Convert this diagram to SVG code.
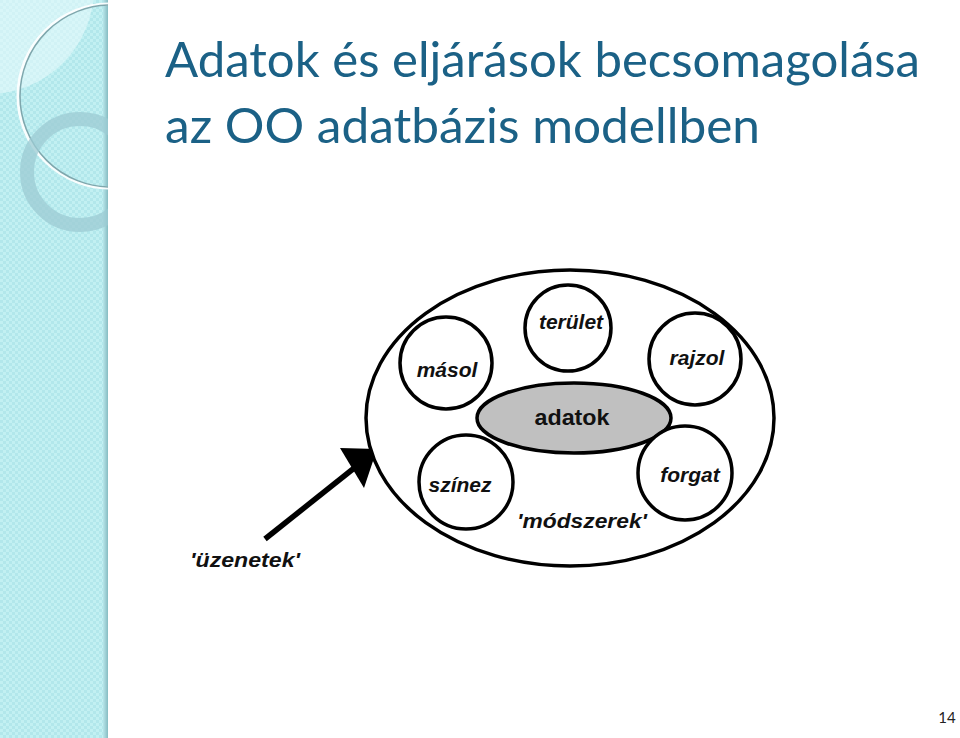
<svg xmlns="http://www.w3.org/2000/svg" width="960" height="738" viewBox="0 0 960 738">
<defs>
<pattern id="chk" width="6" height="6" patternUnits="userSpaceOnUse">
<rect width="6" height="6" fill="#c2f0f2"/>
<rect width="3" height="3" fill="#b2e7eb"/>
<rect x="3" y="3" width="3" height="3" fill="#b2e7eb"/>
</pattern>
<linearGradient id="edge" x1="0" x2="1" y1="0" y2="0">
<stop offset="0" stop-color="#b8e6ea"/>
<stop offset="1" stop-color="#86bcc2"/>
</linearGradient>
<clipPath id="band"><rect x="0" y="0" width="108" height="738"/></clipPath>
<style>
.ttl{font-family:"Lato","Open Sans",sans-serif;font-size:49px;fill:#1b6186}
.node{fill:#fff;stroke:#000;stroke-width:3.5}
.lbl{font-family:"Liberation Sans",Arial,sans-serif;font-size:21px;font-weight:bold;font-style:italic;fill:#111;text-anchor:middle}
</style>
</defs>
<g id="background">
<rect x="0" y="0" width="960" height="738" fill="#fff"/>
<rect x="0" y="0" width="108" height="738" fill="url(#chk)"/>
<rect x="103" y="0" width="5" height="738" fill="url(#edge)"/>
<g clip-path="url(#band)">
<circle cx="-12" cy="-12" r="106" fill="#e6fafb" opacity="0.6"/>
<circle cx="110" cy="96" r="92" fill="none" stroke="#ffffff" stroke-width="3" opacity="0.9"/>
<circle cx="111" cy="96" r="91" fill="none" stroke="#7fa7ad" stroke-width="1.5"/>
<circle cx="80" cy="172" r="53" fill="none" stroke="#9ccbd3" stroke-width="14" opacity="0.75"/>
</g>
</g>
<g id="title">
<text class="ttl" x="165" y="77" textLength="755" lengthAdjust="spacingAndGlyphs">Adatok és eljárások becsomagolása</text>
<text class="ttl" x="165" y="143" textLength="595" lengthAdjust="spacingAndGlyphs">az OO adatbázis modellben</text>
</g>
<g id="connectors">
<line x1="265" y1="539" x2="358" y2="465" stroke="#000" stroke-width="5.5"/>
<polygon points="340,448 364,488 377,449" fill="#000"/>
</g>
<g id="objektum">
<ellipse cx="570" cy="418" rx="204" ry="148" fill="#fff" stroke="#000" stroke-width="3.5"/>
<text class="lbl" x="582" y="528" textLength="130" lengthAdjust="spacingAndGlyphs">'módszerek'</text>
</g>
<g id="node-adatok">
<ellipse cx="574" cy="418" rx="97" ry="35" fill="#c0c0c0" stroke="#000" stroke-width="3.5"/>
<text x="572" y="425" font-family="Liberation Sans,Arial,sans-serif" font-size="22" font-weight="bold" text-anchor="middle" fill="#111" textLength="75" lengthAdjust="spacingAndGlyphs">adatok</text>
</g>
<g id="node-terulet">
<circle class="node" cx="568" cy="328" r="43"/>
<text class="lbl" x="571" y="329">terület</text>
</g>
<g id="node-masol">
<circle class="node" cx="446" cy="363" r="46"/>
<text class="lbl" x="447" y="377">másol</text>
</g>
<g id="node-rajzol">
<circle class="node" cx="695" cy="359" r="46"/>
<text class="lbl" x="697" y="365">rajzol</text>
</g>
<g id="node-szinez">
<circle class="node" cx="466" cy="482" r="47"/>
<text class="lbl" x="460" y="492">színez</text>
</g>
<g id="node-forgat">
<circle class="node" cx="685" cy="473" r="47"/>
<text class="lbl" x="690" y="482">forgat</text>
</g>
<g id="label-uzenetek">
<text class="lbl" x="245" y="567" textLength="110" lengthAdjust="spacingAndGlyphs">'üzenetek'</text>
</g>
<text x="947" y="723" font-family="Lato,sans-serif" font-size="15" fill="#222" text-anchor="middle">14</text>
</svg>
